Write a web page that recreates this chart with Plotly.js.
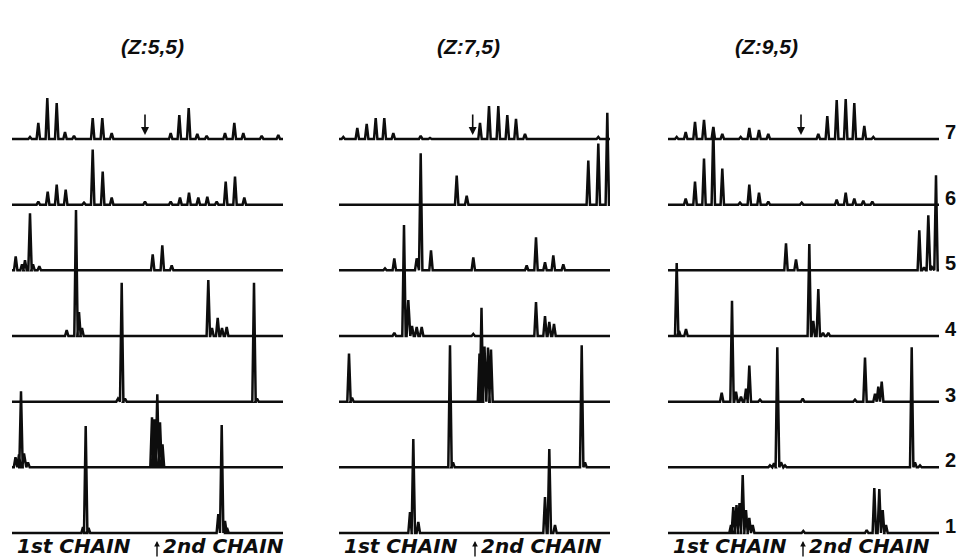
<!DOCTYPE html>
<html>
<head>
<meta charset="utf-8">
<script src="https://cdn.plot.ly/plotly-3.0.1.min.js"></script>
<style>html,body{margin:0;padding:0;background:#fff;}</style>
</head>
<body>
<div id="chart" style="width:958px;height:560px;"></div>
<script>
// ---------- DATA ----------
const panelTitles = ['(Z:5,5)', '(Z:7,5)', '(Z:9,5)'];
const rowLabels = ['1', '2', '3', '4', '5', '6', '7'];
const chainLabels = ['1st CHAIN', '2nd CHAIN'];

// peak positions along the chain (arbitrary units) and intensities, rows 1..7
const z55Pos = [
  [71, 73.7, 76.5, 206.3, 209.7, 213, 215],
  [3.5, 7, 9, 12, 16, 140, 142.5, 145.3, 148, 150.5],
  [106, 109.7, 113, 242, 245],
  [54.7, 64, 67, 70, 196.3, 200, 205.7, 210, 214.7],
  [3.7, 10, 13, 18, 21, 27.3, 140.7, 150.3, 159.7],
  [26.3, 35.7, 44.7, 53.7, 72, 80.7, 90.7, 99.7, 133, 158.7, 168, 177, 186.3, 195.3, 204.7, 213.7, 223, 232.3],
  [18, 26.3, 35.3, 44.7, 53, 62, 80.7, 90.3, 99.7, 158.7, 167.3, 176.7, 185.3, 194.7, 213, 222.3, 231.3, 249.7, 266.3]
];
const z55Int = [
  [6, 107, 5, 19, 108, 12, 5],
  [10, 13, 76, 14, 5, 50, 48, 73, 45, 23],
  [3, 119, 3, 119, 3],
  [6, 126, 24, 8, 56, 8, 18, 8, 9],
  [14, 6, 10, 57, 6, 4, 16, 25, 5],
  [3, 13, 20, 15, 2, 55, 33, 7, 3, 3, 7, 12, 7, 8, 3, 23, 28, 7],
  [2, 16, 41, 36, 7, 3, 21, 21, 6, 6, 24, 31, 5, 3, 6, 16, 6, 3, 4]
];
const z75Pos = [
  [71, 74.3, 79.3, 206, 210.3, 216],
  [111, 114, 242.7, 246],
  [10, 13, 140.5, 142.5, 145.5, 149, 152],
  [55.3, 65, 69.3, 73, 77.7, 82.7, 134.3, 197, 206, 210.3, 215],
  [46, 55.3, 77.7, 81.7, 92, 134.3, 187.7, 197, 206, 214.3, 224.3],
  [117.7, 127.7, 249.3, 259.3, 268.3],
  [4.3, 18.3, 27.7, 36.7, 45.3, 54.3, 81.7, 91, 141, 150, 159.3, 168.3, 177, 186, 259.3]
];
const z75Int = [
  [21, 94, 11, 36, 84, 8],
  [122, 5, 122, 5],
  [48, 4, 48, 94, 55, 54, 52],
  [3, 111, 36, 10, 9, 9, 2, 34, 20, 14, 12],
  [2, 12, 12, 117, 20, 13, 5, 33, 8, 15, 6],
  [29, 9, 44, 61, 92],
  [2, 11, 15, 21, 21, 6, 3, 1, 16, 33, 33, 24, 20, 5, 2]
];
const z95Pos = [
  [63, 65.3, 68.5, 71.5, 74.7, 78, 81.3, 84.7, 135.3, 198.7, 206.3, 211.3, 214.7, 218],
  [102, 106, 109.3, 113, 117, 243.7, 247, 252],
  [53.7, 64, 68, 73, 78, 81.3, 92, 134.7, 187, 197, 207, 210.3, 213.7],
  [8.7, 11, 18, 141.3, 145.3, 150.3, 155, 160.3],
  [118, 128, 251.3, 256, 260.3, 264, 268],
  [17.7, 27, 36, 45.3, 54.3, 72, 81.3, 91, 100.3, 133.7, 168.7, 177.7, 186.3, 195.3, 204.3],
  [8.7, 17.7, 27, 36, 45.3, 54.3, 72.7, 81.3, 91, 100.3, 150.3, 159.3, 168.7, 177.7, 186.3, 196.3, 205.3]
];
const z95Int = [
  [8, 26, 28, 30, 58, 23, 15, 8, 2, 3, 45, 44, 23, 8],
  [2, 4, 120, 5, 2, 120, 5, 2],
  [9, 101, 10, 5, 13, 36, 2, 3, 2, 44, 8, 15, 20],
  [73, 5, 7, 92, 15, 47, 3, 3],
  [27, 11, 40, 3, 55, 3, 95],
  [6, 23, 46, 77, 36, 2, 20, 12, 3, 2, 5, 12, 6, 4, 3],
  [2, 7, 17, 19, 12, 5, 2, 11, 9, 5, 5, 23, 39, 40, 36, 13, 2]
];
// position of the down arrow on the top trace, and of the chain junction (up arrow)
const topArrowPos = [133, 133.7, 133];
const chainJunction = [145, 136, 135];

// ---------- STYLE / GEOMETRY ----------
const W = 958, H = 560;
const chainLength = 271;          // axis span of each panel
const rowUnit = 65.67;            // intensity units per row spacing
const halfWidth = 1.7;            // peak half-width
const yMax = 1 + 533 / rowUnit;
const yMin = yMax - H / rowUnit;
const domains = [[12 / W, 283 / W], [339 / W, 610 / W], [668 / W, 939 / W]];
const axisIds = ['x', 'x2', 'x3'];
const pos = [z55Pos, z75Pos, z95Pos];
const ints = [z55Int, z75Int, z95Int];
const ink = '#0d0d0d';

const traces = [];
for (let p = 0; p < 3; p++) {
  for (let r = 0; r < 7; r++) {
    const row = r + 1;
    const peaks = pos[p][r].map((x, i) => ({x: x, h: ints[p][r][i]})).sort((a, b) => a.x - b.x);
    const xs = [0], ys = [row];
    peaks.forEach(pk => {
      xs.push(pk.x - halfWidth, pk.x, pk.x + halfWidth);
      ys.push(row, row + pk.h / rowUnit, row);
    });
    xs.push(chainLength); ys.push(row);
    traces.push({
      type: 'scatter', mode: 'lines', x: xs, y: ys,
      xaxis: axisIds[p], yaxis: 'y',
      line: {color: ink, width: 2.5}, hoverinfo: 'skip', showlegend: false
    });
  }
}

const annotations = [];
const titleX = [152, 468, 766];
for (let p = 0; p < 3; p++) {
  annotations.push({
    text: panelTitles[p], xref: 'paper', yref: 'paper',
    x: titleX[p] / W, y: 1 - 46 / H, xanchor: 'center', yanchor: 'middle', showarrow: false,
    font: {family: 'Liberation Sans, Arial', size: 21, color: ink, weight: 'bold', style: 'italic'}
  });
  // down arrow on top trace
  annotations.push({
    text: '', xref: axisIds[p], yref: 'y', x: topArrowPos[p], y: 7,
    showarrow: true, ax: 0, ay: -26, arrowhead: 2, arrowsize: 1, arrowwidth: 1.6,
    standoff: 4, arrowcolor: ink
  });
  // chain labels
  annotations.push({
    text: chainLabels[0], xref: axisIds[p], yref: 'paper', x: 3, y: 0,
    xanchor: 'left', yanchor: 'bottom', showarrow: false,
    font: {family: 'DejaVu Sans', size: 20, color: ink, weight: 'bold', style: 'italic'}
  });
  annotations.push({
    text: chainLabels[1], xref: axisIds[p], yref: 'paper', x: chainJunction[p], xshift: 4, y: 0,
    xanchor: 'left', yanchor: 'bottom', showarrow: false,
    font: {family: 'DejaVu Sans', size: 20, color: ink, weight: 'bold', style: 'italic'}
  });
  annotations.push({
    text: '', xref: axisIds[p], yref: 'paper', x: chainJunction[p], y: 1 - 541 / H,
    showarrow: true, ax: 0, ay: 17, arrowhead: 2, arrowsize: 0.8, arrowwidth: 1.4,
    standoff: 0, arrowcolor: ink
  });
}
for (let r = 0; r < 7; r++) {
  annotations.push({
    text: rowLabels[r], xref: 'paper', yref: 'y', x: 943 / W, y: r + 1, yshift: 7,
    xanchor: 'left', yanchor: 'middle', showarrow: false,
    font: {family: 'Liberation Sans, Arial', size: 20, color: ink, weight: 'bold'}
  });
}

const layout = {
  width: W, height: H,
  margin: {l: 0, r: 0, t: 0, b: 0, pad: 0},
  paper_bgcolor: '#fff', plot_bgcolor: '#fff',
  showlegend: false,
  yaxis: {range: [yMin, yMax], visible: false, fixedrange: true},
  annotations: annotations
};
for (let p = 0; p < 3; p++) {
  const key = p === 0 ? 'xaxis' : 'xaxis' + (p + 1);
  layout[key] = {domain: domains[p], range: [0, chainLength], visible: false, anchor: 'y', fixedrange: true};
}

Plotly.newPlot('chart', traces, layout, {displayModeBar: false, staticPlot: true});
</script>
</body>
</html>
